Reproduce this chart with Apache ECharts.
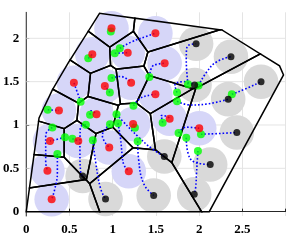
<!DOCTYPE html>
<html><head><meta charset="utf-8">
<script src="https://cdn.jsdelivr.net/npm/echarts@6/dist/echarts.min.js"></script>
<style>html,body{margin:0;padding:0;background:#fff}#c{width:291px;height:242px}</style>
</head><body><div id="c"></div>
<script>
// ---- data ----
const xTicks = [0, 0.5, 1, 1.5, 2, 2.5];
const yTicks = [0, 0.5, 1, 1.5, 2];
const sensingRadius = 0.2;

// workspace boundary (convex polygon)
const boundary = [[0,0],[2.117,0],[2.976,1.577],[2.93,1.682],[2.263,2.096],[0.848,2.288],[0.494,1.73],[0.302,1.404],[0.148,1.081]];

// active agents (red) – current positions
const redAgents = [[0.986,2.115],[0.764,1.815],[1.174,1.834],[0.551,1.488],[0.909,1.450],[1.213,1.488],[0.378,1.167],[0.813,1.123],[1.494,2.058],[1.601,1.712],[1.494,1.354],[1.659,1.073],[2.001,0.962],[0.275,0.815],[0.602,0.815],[0.960,0.740],[1.236,1.012],[0.245,0.473],[1.186,0.466],[0.294,0.143]];
// start positions (green) of the red agents
const redStarts = [[0.978,2.078],[0.717,1.769],[1.024,1.827],[0.629,1.269],[0.967,1.375],[0.986,1.542],[0.248,1.176],[0.738,1.119],[1.082,1.885],[1.424,1.554],[1.240,1.223],[1.578,1.027],[1.762,0.908],[0.448,0.858],[0.533,0.842],[0.969,1.008],[1.257,0.969],[0.302,0.971],[1.061,1.020],[0.360,0.666]];
// intermediate trajectory points of the red agents
const redVia = [[],[],[],[],[],[[1.09,1.56]],[],[[0.75,1.165]],[[1.225,1.961],[1.378,2.018]],[[1.456,1.672],[1.513,1.700]],[[1.320,1.308],[1.436,1.346]],[[1.56,1.11],[1.628,1.10]],[[1.85,0.975]],[],[],[[0.88,0.88]],[],[[0.225,0.885],[0.225,0.58]],[[1.09,0.85],[1.11,0.65],[1.13,0.54]],[[0.36,0.45],[0.33,0.26]]];

// inactive agents (black) – current positions
const blackAgents = [[1.965,1.937],[2.368,1.788],[1.947,1.461],[2.716,1.499],[2.336,1.298],[2.436,0.913],[2.128,0.544],[1.597,0.637],[1.943,0.201],[1.474,0.187],[0.652,0.412],[0.917,0.146]];
const blackStarts = [[1.871,1.469],[1.993,1.456],[1.744,1.375],[2.378,1.354],[1.744,1.273],[2.021,0.893],[1.851,0.854],[1.044,1.123],[1.986,0.700],[1.289,0.812],[0.690,1.003],[0.770,0.824]];
const blackVia = [[[1.851,1.75],[1.859,1.90]],[[2.09,1.615],[2.205,1.73]],[[1.72,1.46],[1.82,1.50]],[[2.551,1.423]],[[1.897,1.231],[2.09,1.242]],[[2.281,0.904]],[[1.87,0.68],[1.95,0.57]],[[1.12,1.04],[1.30,0.86],[1.45,0.73]],[[1.97,0.45],[1.96,0.28]],[[1.30,0.60],[1.36,0.32]],[[0.625,0.97],[0.621,0.69],[0.629,0.46]],[[0.802,0.577],[0.859,0.27]]];

// ---- Voronoi of the red agents clipped to the boundary ----
function clipHalf(poly, a, b, c) {
  const out = [];
  for (let i = 0; i < poly.length; i++) {
    const p = poly[(i + poly.length - 1) % poly.length], q = poly[i];
    const pin = a*p[0] + b*p[1] <= c, qin = a*q[0] + b*q[1] <= c;
    const inter = () => { const t = (c - (a*p[0]+b*p[1])) / (a*(q[0]-p[0]) + b*(q[1]-p[1])); return [p[0]+t*(q[0]-p[0]), p[1]+t*(q[1]-p[1])]; };
    if (qin) { if (!pin) out.push(inter()); out.push(q); }
    else if (pin) out.push(inter());
  }
  return out;
}
const cells = redAgents.map((pi, i) => {
  let poly = boundary.slice();
  redAgents.forEach((pj, j) => {
    if (i === j) return;
    const a = pj[0]-pi[0], b = pj[1]-pi[1];
    const c = (pj[0]*pj[0]+pj[1]*pj[1]-pi[0]*pi[0]-pi[1]*pi[1]) / 2;
    poly = clipHalf(poly, a, b, c);
  });
  return poly;
});

const chart = echarts.init(document.getElementById('c'), null, {renderer: 'canvas'});
const font = {fontFamily: 'Liberation Serif', fontWeight: 'bold', fontSize: 13, color: '#000'};

function circleSeries(pts, color, z) {
  return {
    type: 'custom', z: z, silent: true,
    data: pts,
    renderItem: (params, api) => {
      const c = api.coord([api.value(0), api.value(1)]);
      const r = api.size([sensingRadius, 0])[0];
      return {type: 'circle', shape: {cx: c[0], cy: c[1], r: r}, style: {fill: color}};
    }
  };
}
function pathSeries(starts, via, ends) {
  return starts.map((s, i) => ({
    type: 'line', z: 5, silent: true, symbol: 'none', smooth: 0.45,
    data: [s, ...via[i], ends[i]],
    lineStyle: {color: '#0000ff', width: 1.6, type: [1.6, 2]}
  }));
}
const gridSeries = yTicks.filter(v => v > 0).map(v => ({
  type: 'line', z: 1, silent: true, symbol: 'none',
  data: [[0, v], [3, v]],
  lineStyle: {color: '#e4e4e4', width: 1}
}));

const option = {
  animation: false,
  grid: {left: 25.5, right: 5.4, top: 12.3, bottom: 26},
  xAxis: {
    type: 'value', min: 0, max: 3, interval: 0.5,
    axisLine: {show: true, lineStyle: {color: '#262626', width: 1}},
    axisTick: {show: true, inside: true, length: 3, lineStyle: {color: '#262626'}},
    axisLabel: Object.assign({margin: 7, formatter: v => (v >= 2.99 ? '' : String(v))}, font),
    splitLine: {show: true, lineStyle: {color: '#e4e4e4', width: 1}}
  },
  yAxis: {
    type: 'value', min: -0.05, max: 2.3,
    axisLine: {show: true, lineStyle: {color: '#262626', width: 1}},
    axisTick: {show: true, inside: true, length: 3, customValues: yTicks, lineStyle: {color: '#262626'}},
    axisLabel: Object.assign({margin: 7, customValues: yTicks, formatter: v => String(v)}, font),
    splitLine: {show: false}
  },
  series: [
    ...gridSeries,
    circleSeries(redAgents, '#d6d6f8', 2),
    circleSeries(blackAgents, '#d9d9d9', 2),
    {
      type: 'custom', z: 4, silent: true,
      data: cells.map((c, i) => [i]),
      renderItem: (params, api) => ({
        type: 'polygon',
        shape: {points: cells[params.dataIndex].map(p => api.coord(p))},
        style: {fill: 'none', stroke: '#000', lineWidth: 1.5}
      })
    },
    ...pathSeries(redStarts, redVia, redAgents),
    ...pathSeries(blackStarts, blackVia, blackAgents),
    {type: 'scatter', z: 6, silent: true, symbolSize: 8, data: redStarts.concat(blackStarts), itemStyle: {color: '#00ff00'}},
    {type: 'scatter', z: 7, silent: true, symbolSize: 8, data: redAgents, itemStyle: {color: '#ff0000'}},
    {type: 'scatter', z: 7, silent: true, symbolSize: 7, data: blackAgents, itemStyle: {color: '#000'}}
  ]
};
chart.setOption(option);
</script>
</body></html>
